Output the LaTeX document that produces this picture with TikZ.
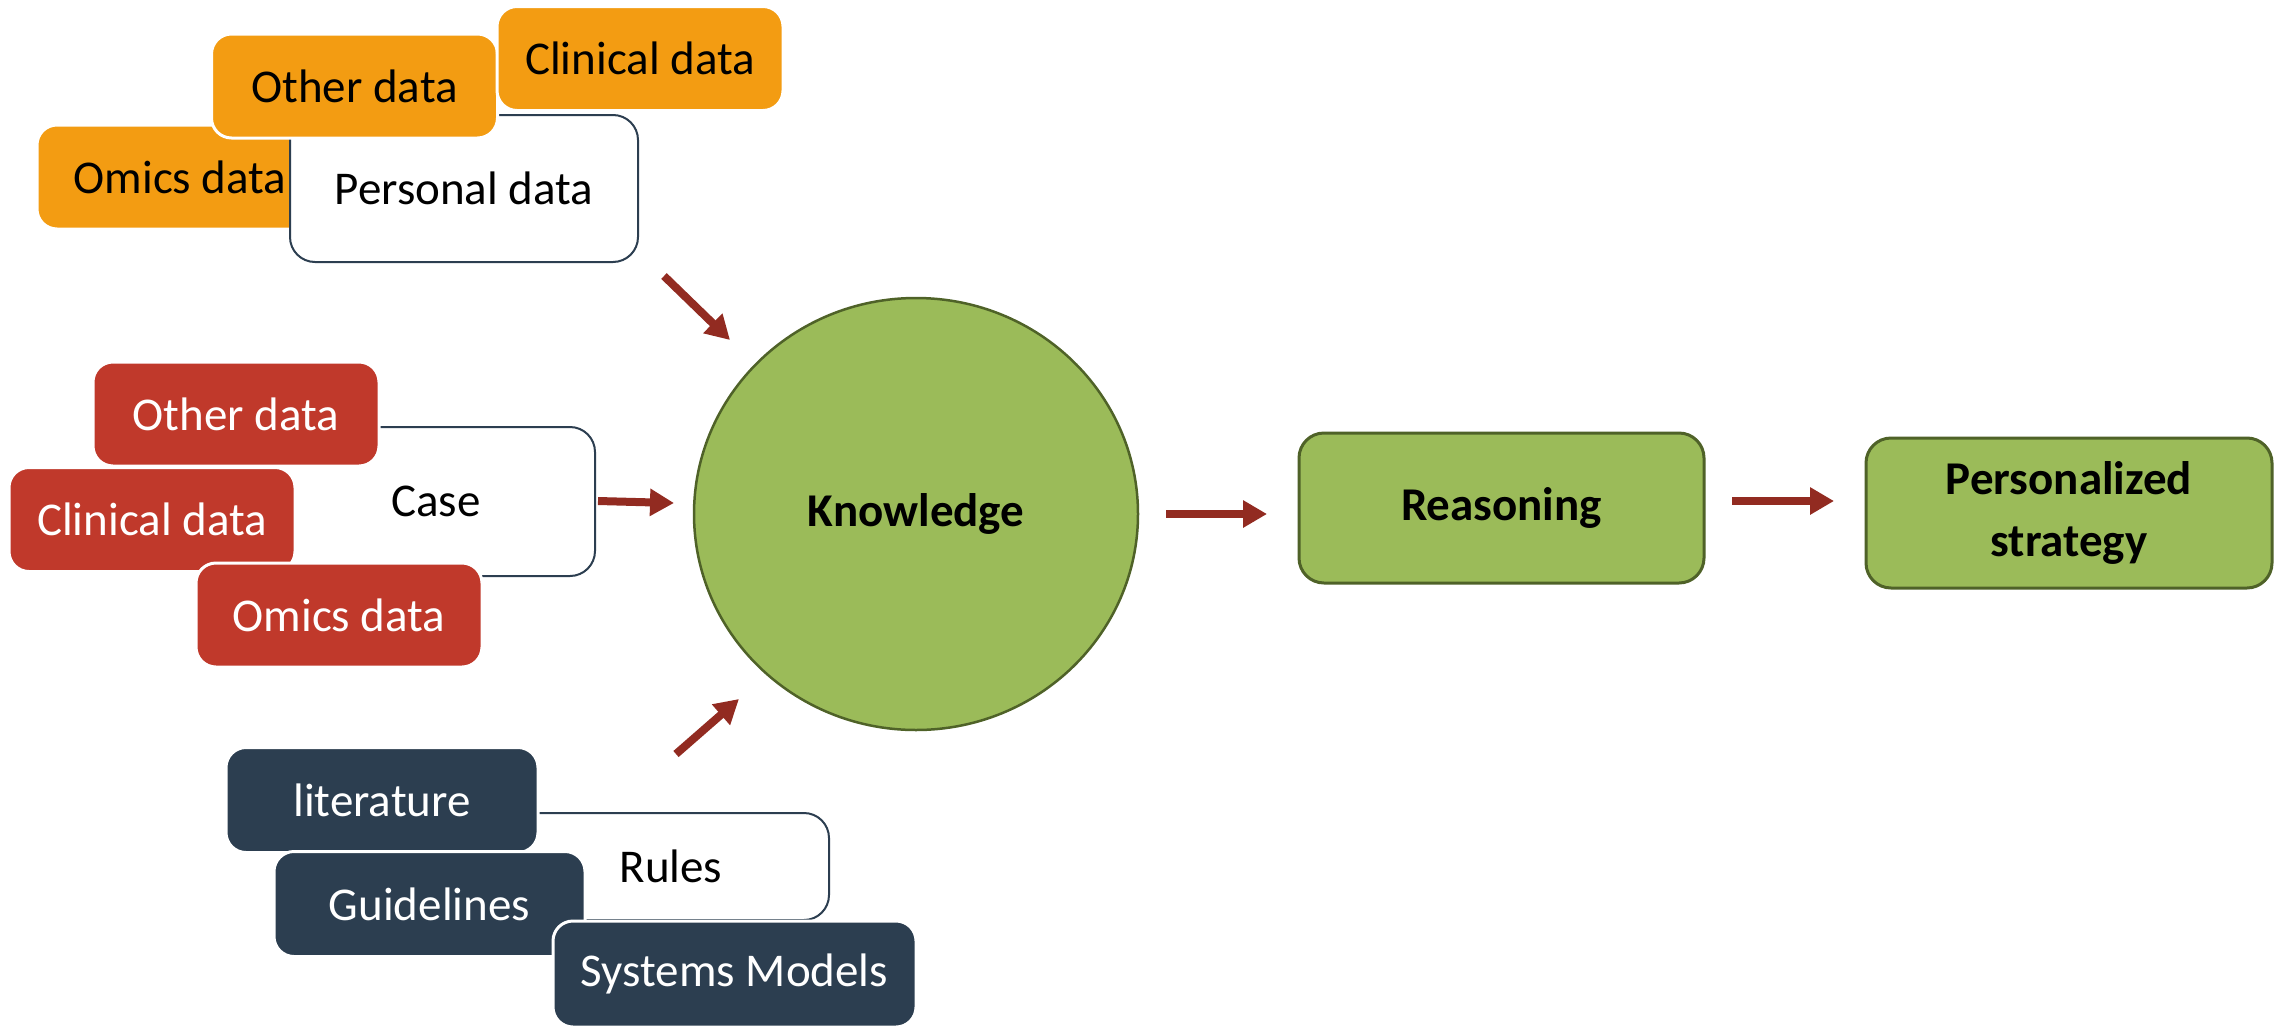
\documentclass[tikz,border=0pt]{standalone}
\usepackage{fontspec}
\setmainfont{Carlito}
\usetikzlibrary{arrows.meta,shapes.geometric}
\definecolor{orangebox}{HTML}{F39C12}
\definecolor{redbox}{HTML}{C0392B}
\definecolor{navybox}{HTML}{2C3E50}
\definecolor{greenfill}{HTML}{9BBB59}
\definecolor{greenline}{HTML}{4F6228}
\definecolor{arrowred}{HTML}{922B21}
\tikzset{
  every node/.style={font=\fontsize{47}{58}\selectfont, inner sep=0pt},
  cbox/.style={rectangle, rounded corners=20pt, draw=white, line width=3pt},
  obox/.style={cbox, fill=orangebox, text=black, minimum width=286pt, minimum height=104pt},
  rbox/.style={cbox, fill=redbox, text=white, minimum width=286pt, minimum height=104pt},
  nbox/.style={cbox, fill=navybox, text=white, minimum height=105pt},
  wbox/.style={rectangle, rounded corners=25pt, draw=navybox, line width=2pt, fill=white, text=black},
  gbox/.style={rectangle, rounded corners=25pt, draw=greenline, line width=3pt, fill=greenfill, text=black,
    font=\fontsize{47}{62}\selectfont\bfseries, minimum width=405pt, minimum height=150pt, align=center},
  arr/.style={draw=arrowred, line width=8pt, -{Triangle[length=24pt,width=26pt]}, arrowred}
}
\begin{document}
\begin{tikzpicture}[x=1pt,y=-1pt]
\useasboundingbox (0,0) rectangle (2280,1031);
\fill[white] (0,0) rectangle (2280,1031);

% Personal data group
\node[obox] (oomics) at (180,177) {Omics data};
\node[wbox, minimum width=348pt, minimum height=147pt] (personal) at (464,188.5) {Personal data};
\node[obox] (oother) at (354.5,86) {Other data};
\node[obox] (oclin) at (640,58.5) {Clinical data};

% Case group
\node[wbox, minimum width=318pt, minimum height=149pt] (case) at (436,501.5) {Case};
\node[rbox] (rother) at (236,414) {Other data};
\node[rbox] (rclin) at (152,519.5) {Clinical data};
\node[rbox] (romics) at (339,615) {Omics data};

% Rules group
\node[wbox, minimum width=316pt, minimum height=107pt] (rules) at (671,866.5) {Rules};
\node[nbox, minimum width=312pt] (lit) at (382,800) {literature};
\node[nbox, minimum width=311pt] (guide) at (429.5,904) {Guidelines};
\node[nbox, minimum width=363pt, minimum height=106pt] (sys) at (734.5,974) {Systems Models};

% Knowledge and chain
\node[ellipse, draw=greenline, line width=2.5pt, fill=greenfill, minimum width=444pt, minimum height=432pt,
  font=\fontsize{47}{58}\selectfont\bfseries] (know) at (916,514) {\raisebox{-4pt}{Knowledge}};
\node[gbox] (reason) at (1501.5,508) {\raisebox{-4pt}{Reasoning}};
\node[gbox, minimum width=406pt] (pers) at (2069,513) {Personalized\\strategy};

% arrow end points
\coordinate (a1s) at (664,276); \coordinate (a1e) at (730,340);
\coordinate (a2s) at (598,501); \coordinate (a2e) at (674,503);
\coordinate (a3s) at (676,754); \coordinate (a3e) at (739,699);
\coordinate (a4s) at (1166,514); \coordinate (a4e) at (1267,514);
\coordinate (a5s) at (1732,501); \coordinate (a5e) at (1834,501);

\draw[arr] (a1s) -- (a1e);
\draw[arr] (a2s) -- (a2e);
\draw[arr] (a3s) -- (a3e);
\draw[arr] (a4s) -- (a4e);
\draw[arr] (a5s) -- (a5e);
\end{tikzpicture}
\end{document}
